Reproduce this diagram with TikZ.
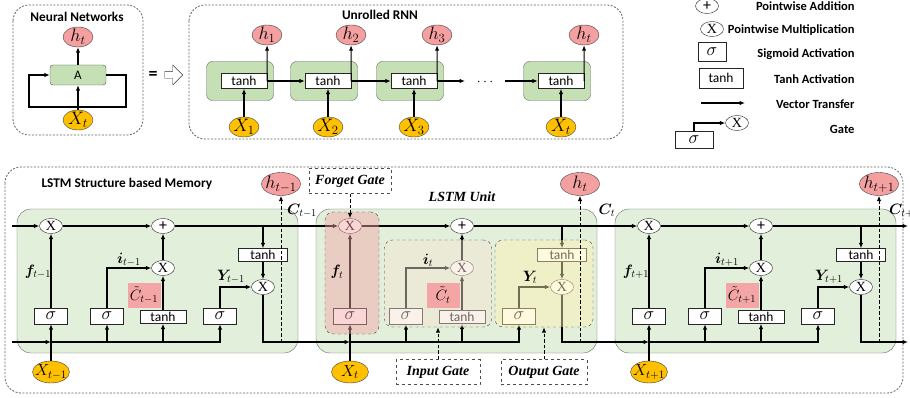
\RequirePackage{fix-cm}
\documentclass[tikz,border=0pt]{standalone}
\usepackage{fontspec}
\setmainfont{Carlito}
\newfontfamily\gatefont{Liberation Serif}
\usepackage{bm}
\usetikzlibrary{shapes.geometric,shapes.arrows,arrows.meta,positioning}
\definecolor{cellgreen}{RGB}{197,224,180}
\definecolor{lstmgreen}{RGB}{226,239,218}
\definecolor{hpink}{RGB}{244,160,160}
\definecolor{xorange}{RGB}{255,192,0}
\definecolor{ctpink}{RGB}{244,166,166}
\definecolor{fgpink}{RGB}{245,165,165}
\definecolor{ingray}{RGB}{245,228,210}
\definecolor{outyel}{RGB}{255,242,180}
\begin{document}
\begin{tikzpicture}[x=1pt,y=-1pt]
    \tikzstyle{hnode}=[ellipse,draw=black!75,fill=hpink,inner sep=-3pt,minimum width=30,minimum height=20,font=\fontsize{18}{18}\selectfont]
    \tikzstyle{xnode}=[ellipse,draw=black!75,fill=xorange,inner sep=-3pt,minimum width=30,minimum height=20,font=\fontsize{18}{18}\selectfont]
    \tikzstyle{opnode}=[ellipse,draw=black!85,fill=white,inner sep=0pt,minimum width=23,minimum height=15,font=\gatefont\fontsize{14}{14}\selectfont]
    \tikzstyle{sigbox}=[rectangle,draw=black!85,fill=white,inner sep=0pt,minimum width=33,minimum height=16,font=\fontsize{18}{18}\selectfont]
    \tikzstyle{tanhbox}=[rectangle,draw=black!85,fill=white,inner sep=0pt,minimum width=46,minimum height=13,font=\fontsize{13.5}{13.5}\selectfont]
    \tikzstyle{rnncell}=[rectangle,rounded corners=6,draw=black!60,fill=cellgreen,minimum width=67,minimum height=39]
    \tikzstyle{lstmcell}=[rectangle,rounded corners=14,draw=black!60,fill=lstmgreen,minimum width=281,minimum height=144]
    \tikzstyle{ctbox}=[rectangle,fill=ctpink,inner sep=0pt,minimum width=33,minimum height=25,font=\fontsize{15}{15}\selectfont]
    \tikzstyle{lbl}=[inner sep=1pt,font=\fontsize{15}{15}\selectfont]
    \tikzstyle{arr}=[-{Latex[length=5.5pt,width=4.5pt]},line width=1.1pt]
    \tikzstyle{dasharr}=[-{Latex[length=5.5pt,width=4.5pt]},line width=1pt,dash pattern=on 3.5pt off 2pt]
    \tikzstyle{title}=[font=\bfseries\fontsize{13.3}{15}\selectfont]
    \tikzstyle{legend}=[anchor=east,font=\bfseries\fontsize{12.5}{14}\selectfont]
    \tikzstyle{framebox}=[draw=black!60,dash pattern=on 2pt off 1.5pt,rounded corners=16,line width=0.8pt]
    \tikzstyle{gatezone}=[rectangle,draw=black!75,dashed,rounded corners=8,fill opacity=0.45]
    \tikzstyle{gatelabel}=[rectangle,draw=black!70,dashed,fill=white,minimum height=25,font=\gatefont\bfseries\itshape\fontsize{14}{14}\selectfont]
    \useasboundingbox (0,0) rectangle (910,398);

    \draw[framebox] (13,5) rectangle (143,135);
    \node[title] (nntitle) at (77,17) {Neural Networks};
    \node[hnode] (nnh) at (78,37) {$h_t$};
    \node[rectangle,rounded corners=3,draw=black!70,fill=cellgreen,minimum width=56,minimum height=20,font=\fontsize{13}{13}\selectfont] (nnA) at (78,75) {A};
    \node[xnode] (nnx) at (78,120) {$X_t$};
    \coordinate (loopl) at (29,107);
    \coordinate (loopr) at (126,107);
    \draw[arr] (nnA) -- (nnh);
    \draw[arr] (nnx) -- (nnA);
    \draw[arr] (nnA.east) -| (loopr) -- (loopl) |- (nnA.west);
    \node[font=\bfseries\fontsize{18}{18}\selectfont] (eq) at (153,75) {=};
    \node[single arrow,draw=black!80,fill=white,minimum width=20,minimum height=18,single arrow head extend=4pt,inner sep=2pt] (eqarr) at (172,75) {};

    \draw[framebox] (189,5) rectangle (623,139);
    \node[title] (rnntitle) at (380,15) {Unrolled RNN};
    \foreach \cx/\k in {244/1,328/2,414/3,561/t}{
      \node[rnncell] (rc\k) at (\cx-4,81) {};
      \node[tanhbox,minimum height=15] (rt\k) at (\cx,81) {tanh};
      \node[hnode] (rh\k) at (\cx+23,35) {$h_\k$};
      \node[xnode] (rx\k) at (\cx,127) {$X_\k$};
      \draw[arr] (rx\k) -- (rt\k);
      \draw[arr] (rt\k.east) -- (rh\k);
    }
    \coordinate (dotl) at (465,81);
    \coordinate (dotr) at (505,81);
    \draw[arr] (rt1) -- (rt2);
    \draw[arr] (rt2) -- (rt3);
    \draw[arr] (rt3) -- (dotl);
    \node[font=\fontsize{14}{14}\selectfont] (dots) at (485,82) {$\cdots$};
    \draw[arr] (dotr) -- (rtt);

    \node[opnode,font=\fontsize{16}{16}\selectfont] (lgadd) at (707,6) {+};
    \node[opnode] (lgmul) at (712,29) {X};
    \node[sigbox,minimum width=28,minimum height=19] (lgsig) at (712,52) {$\sigma$};
    \node[tanhbox,minimum width=44,minimum height=20] (lgtanh) at (721,78) {tanh};
    \coordinate (lgva) at (701,103);
    \coordinate (lgvb) at (745,103);
    \draw[arr] (lgva) -- (lgvb);
    \node[sigbox,minimum width=38,minimum height=17] (lggs) at (694,140) {$\sigma$};
    \node[opnode] (lggx) at (737,123) {X};
    \draw[arr] (lggs.north) |- (lggx);
    \node[legend] (lgaddt) at (858,6) {Pointwise Addition};
    \node[legend] (lgmult) at (858,30) {Pointwise Multiplication};
    \node[legend] (lgsigt) at (858,54) {Sigmoid Activation};
    \node[legend] (lgtanht) at (858,79) {Tanh Activation};
    \node[legend] (lgvt) at (858,104) {Vector Transfer};
    \node[legend] (lggt) at (858,129) {Gate};

    \draw[framebox] (5,167) rectangle (903,393);
    \node[title,anchor=west] (lstmtitle) at (38,184) {LSTM Structure based Memory};
    \foreach \L/\s/\n in {17/{t-1}/a,316/t/b,615/{t+1}/c}{
      \node[lstmcell] (cell\n) at (\L+140.5,281) {};
      \node[opnode] (fx\n) at (\L+34,226) {X};
      \node[opnode,font=\fontsize{16}{16}\selectfont] (px\n) at (\L+146,226) {+};
      \node[opnode] (ix\n) at (\L+146,268) {X};
      \node[opnode] (ox\n) at (\L+246,287) {X};
      \node[tanhbox,minimum width=49] (ot\n) at (\L+246,255) {tanh};
      \node[sigbox] (fs\n) at (\L+34,316) {$\sigma$};
      \node[sigbox] (is\n) at (\L+90,316) {$\sigma$};
      \node[tanhbox] (ts\n) at (\L+146,317) {tanh};
      \node[sigbox] (os\n) at (\L+203,316) {$\sigma$};
      \node[xnode,minimum width=37,minimum height=22,font=\fontsize{16}{16}\selectfont] (xin\n) at (\L+34,372) {$X_{\s}$};
      \coordinate (bus\n) at (\L+34,342);
      \draw[arr] (fx\n) -- (px\n);
      \draw[arr] (fs\n) -- (fx\n);
      \draw[arr] (is\n.north) |- (ix\n);
      \draw[arr] (ts\n) -- (ix\n);
      \draw[arr] (ix\n) -- (px\n);
      \draw[arr] (ot\n |- px\n) -- (ot\n);
      \draw[arr] (ot\n) -- (ox\n);
      \draw[arr] (os\n.north) |- (ox\n);
      \draw[arr] (xin\n) -- (fs\n);
      \draw[arr] (bus\n) -| (os\n);
      \draw[arr] (is\n |- bus\n) -- (is\n);
      \draw[arr] (ts\n |- bus\n) -- (ts\n);
    }
    \coordinate (cin) at (12,226);
    \coordinate (cout) at (908,226);
    \coordinate (bin) at (12,342);
    \coordinate (bout) at (908,342);
    \draw[arr] (cin) -- (fxa);
    \draw[arr] (pxa) -- (fxb);
    \draw[arr] (pxb) -- (fxc);
    \draw[arr] (pxc) -- (cout);
    \draw[arr] (bin) -- (busa);
    \draw[arr] (oxa) |- (busb);
    \draw[arr] (oxb) |- (busc);
    \draw[arr] (oxc) |- (bout);

    \node[gatezone,fill=fgpink,minimum width=54,minimum height=122] (fgate) at (352,273) {};
    \node[gatezone,fill=ingray,minimum width=107,minimum height=87] (igate) at (438,283.5) {};
    \node[gatezone,fill=outyel,minimum width=98,minimum height=87] (ogate) at (544,283.5) {};

    \foreach \L/\s/\n in {17/{t-1}/a,316/t/b,615/{t+1}/c}{
      \node[hnode,minimum width=39,minimum height=23] (ht\n) at (\L+264,184) {$h_{\s}$};
      \draw[dasharr] (ht\n |- bus\n) -- (ht\n);
      \node[lbl] (lf\n) at (\L+21,272) {$\bm{f}_{\s}$};
      \node[lbl] (li\n) at (\L+112,260) {$\bm{i}_{\s}$};
      \node[ctbox] (lc\n) at (\L+127,295) {$\tilde{C}_{\s}$};
      \node[lbl] (ly\n) at (\L+214,277) {$\bm{Y}_{\s}$};
    }
    \node[lbl] (cl0) at (302,211) {$\bm{C}_{t-1}$};
    \node[lbl] (cl1) at (607,210) {$\bm{C}_{t}$};
    \node[lbl] (cl2) at (904,211) {$\bm{C}_{t+1}$};

    \node[gatelabel,minimum width=82] (fglab) at (350,181) {Forget Gate};
    \draw[dasharr] (fglab) -- (fxb);
    \node[gatelabel,minimum width=84] (iglab) at (438,372) {Input Gate};
    \draw[dasharr] (iglab) -- (igate);
    \node[gatelabel,minimum width=86] (oglab) at (544,372) {Output Gate};
    \draw[dasharr] (oglab) -- (ogate);
    \node[font=\gatefont\bfseries\itshape\fontsize{14}{14}\selectfont] (unitlab) at (462,197) {LSTM Unit};
\end{tikzpicture}
\end{document}
